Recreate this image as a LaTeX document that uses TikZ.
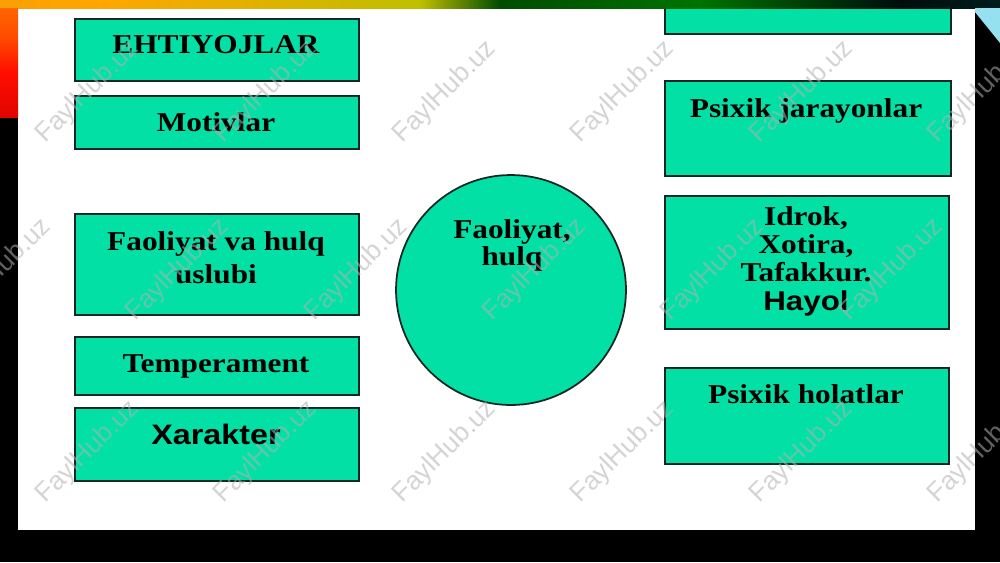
\documentclass[tikz,border=0pt]{standalone}
\usepackage{fontspec}
\setmainfont{Liberation Serif}[FakeStretch=1.15]
\newfontfamily\arialfont{Liberation Sans}[FakeStretch=1.15]
\newfontfamily\markfont{Liberation Sans}

\definecolor{boxgreen}{RGB}{2,224,166}
\definecolor{boxline}{RGB}{20,40,35}
\definecolor{bandcyan}{RGB}{150,225,240}

\pgfdeclarehorizontalshading{topband}{100bp}{color(0bp)=(orange!60!brown); color(30bp)=(orange!70!yellow);
  color(46bp)=(yellow!50!olive); color(50bp)=(green!30!black); color(60bp)=(green!45!black);
  color(70bp)=(black!90!teal); color(82bp)=(black!80!cyan); color(88bp)=(cyan!60!gray);
  color(95bp)=(cyan!40!white); color(100bp)=(cyan!15!white)}
\pgfdeclareverticalshading{leftband}{100bp}{color(0bp)=(red!50!black); color(12bp)=(red!80!black);
  color(45bp)=(red!90!orange); color(62bp)=(orange!60!red); color(82bp)=(orange!90!red);
  color(100bp)=(orange!60!yellow)}

\tikzset{
  box/.style={draw=boxline, fill=boxgreen, line width=1pt, inner sep=0pt},
  lbl/.style={font=\fontsize{15.5}{17}\selectfont\bfseries, anchor=base, align=center, inner sep=0pt},
  wmark/.style={font=\markfont\fontsize{15}{15}\selectfont, text=black!30, opacity=0.55, rotate=45}
}

\begin{document}
\begin{tikzpicture}[x=0.02cm,y=-0.02cm]
\useasboundingbox (0,0) rectangle (1000,562);
% slide on black
\fill[black] (0,0) rectangle (1000,562);
\fill[white] (18,8) rectangle (975,530);

% left column
\node[box, anchor=north west, minimum width=5.68cm, minimum height=1.24cm] (ehtiyoj) at (74,18) {};
\node[box, anchor=north west, minimum width=5.68cm, minimum height=1.06cm] (motiv) at (74,95) {};
\node[box, anchor=north west, minimum width=5.68cm, minimum height=2.02cm] (uslub) at (74,213) {};
\node[box, anchor=north west, minimum width=5.68cm, minimum height=1.16cm] (temper) at (74,336) {};
\node[box, anchor=north west, minimum width=5.68cm, minimum height=1.46cm] (xarakter) at (74,407) {};

% right column
\node[box, anchor=north west, minimum width=5.72cm, minimum height=0.86cm] (yuqori) at (664,-10) {};
\node[box, anchor=north west, minimum width=5.72cm, minimum height=1.9cm] (jarayon) at (664,80) {};
\node[box, anchor=north west, minimum width=5.68cm, minimum height=2.66cm] (idrok) at (664,195) {};
\node[box, anchor=north west, minimum width=5.68cm, minimum height=1.92cm] (holat) at (664,367) {};

% centre
\node[box, circle, minimum size=4.6cm] (faol) at (511,290) {};

% texts (multi-line ones sit on their last baseline)
\node[lbl] (ehtiyojT) at (216,53) {EHTIYOJLAR};
\node[lbl] (motivT) at (216,131) {Motivlar};
\node[lbl, font=\fontsize{15.5}{18.7}\selectfont\bfseries] (uslubT) at (216,283) {Faoliyat va hulq\\uslubi};
\node[lbl] (temperT) at (216,372) {Temperament};
\node[lbl, font=\arialfont\fontsize{16}{17}\selectfont\bfseries] (xarakterT) at (216,444) {Xarakter};
\node[lbl] (jarayonT) at (806,117) {Psixik jarayonlar};
\node[lbl, font=\fontsize{15.5}{16}\selectfont\bfseries] (idrokT) at (806,310) {Idrok,\\Xotira,\\Tafakkur.\\{\arialfont Hayol}};
\node[lbl] (holatT) at (806,403) {Psixik holatlar};
\node[lbl, font=\fontsize{15.5}{15.3}\selectfont\bfseries] (faolT) at (512,265) {Faoliyat,\\hulq};

% frame bands
\shade[shading=topband] (0,0) rectangle (1000,8);
\shade[shading=leftband] (0,8) rectangle (18,117);
\fill[bandcyan] (975,8) -- (1000,8) -- (1000,43) -- (975,12) -- cycle;

% watermarks
\foreach \wx in {88,266,445,623,802,980} {
  \node[wmark] (wmA\wx) at (\wx,92) {FaylHub.uz};
  \node[wmark] (wmC\wx) at (\wx,452) {FaylHub.uz};
}
\foreach \wx in {0,178,357,535,713,892} {
  \node[wmark] (wmB\wx) at (\wx,270) {FaylHub.uz};
}
\end{tikzpicture}
\end{document}
